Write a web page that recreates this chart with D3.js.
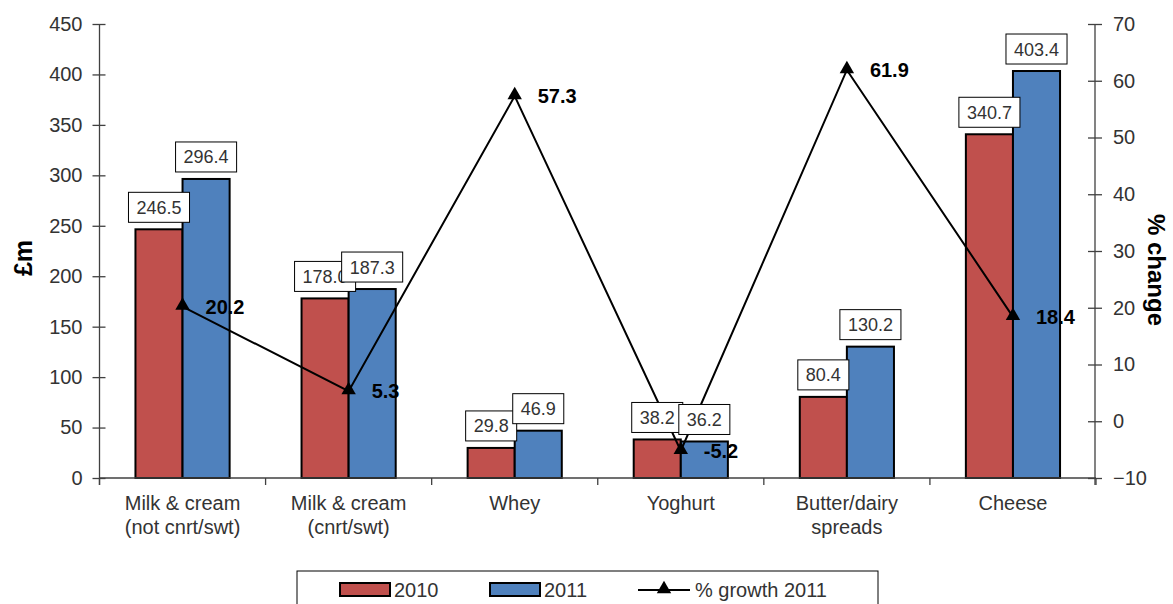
<!DOCTYPE html>
<html>
<head>
<meta charset="utf-8">
<script src="https://cdn.jsdelivr.net/npm/d3@7/dist/d3.min.js"></script>
<style>
  html, body { margin: 0; padding: 0; background: #fff; }
  svg { display: block; font-family: "Liberation Sans", Arial, sans-serif; }
</style>
</head>
<body>
<svg id="chart" width="1173" height="604"></svg>
<script>
// Dairy exports by category, £m, with % growth in 2011
const categories = [
  ["Milk & cream", "(not cnrt/swt)"],
  ["Milk & cream", "(cnrt/swt)"],
  ["Whey"],
  ["Yoghurt"],
  ["Butter/dairy", "spreads"],
  ["Cheese"]
];
const seriesNames = ["2010", "2011"];
const values2010 = [246.5, 178.0, 29.8, 38.2, 80.4, 340.7];
const values2011 = [296.4, 187.3, 46.9, 36.2, 130.2, 403.4];
const growth2011 = [20.2, 5.3, 57.3, -5.2, 61.9, 18.4];
const leftTicks = [0, 50, 100, 150, 200, 250, 300, 350, 400, 450];
const rightTicks = [-10, 0, 10, 20, 30, 40, 50, 60, 70];
const growthLabel = "% growth 2011";

const colors = { "2010": "#C0504D", "2011": "#4F81BD" };
const axisColor = "#404040";
const textColor = "#333";

const svg = d3.select("#chart");
const plot = { left: 99.5, right: 1096, top: 24, bottom: 478 };

const catKeys = categories.map((c, i) => i);
const x0 = d3.scaleBand().domain(catKeys).range([plot.left, plot.right]).padding(0);
const bw = x0.bandwidth();
const groupW = bw * 0.567;
const x1 = d3.scaleBand().domain(seriesNames).range([(bw - groupW) / 2, (bw + groupW) / 2]).padding(0);
const yL = d3.scaleLinear().domain([0, 450]).range([plot.bottom, plot.top]);
const yR = d3.scaleLinear().domain([-10, 70]).range([plot.bottom, plot.top]);

const rows = catKeys.map(i => ({ i, "2010": values2010[i], "2011": values2011[i], growth: growth2011[i] }));

// Bars
const groups = svg.append("g").selectAll("g").data(rows).join("g")
  .attr("transform", d => `translate(${x0(d.i)},0)`);
groups.selectAll("rect").data(d => seriesNames.map(s => ({ s, v: d[s] }))).join("rect")
  .attr("x", d => x1(d.s))
  .attr("y", d => yL(d.v))
  .attr("width", x1.bandwidth())
  .attr("height", d => yL(0) - yL(d.v))
  .attr("fill", d => colors[d.s])
  .attr("stroke", "#000")
  .attr("stroke-width", 2);

// Left axis
const axL = svg.append("g").attr("transform", `translate(${plot.left},0)`)
  .call(d3.axisLeft(yL).tickValues(leftTicks).tickSize(7).tickPadding(10));
axL.select(".domain").attr("d", `M0,${plot.top}V${plot.bottom + 7}`);
axL.selectAll(".tick line").attr("x1", 6).attr("x2", -7);

// Right axis
const axR = svg.append("g").attr("transform", `translate(${plot.right - 1},0)`)
  .call(d3.axisRight(yR).tickValues(rightTicks).tickSize(7).tickPadding(11));
axR.select(".domain").attr("d", `M0,${plot.top}V${plot.bottom + 7}`);
axR.selectAll(".tick line").attr("x1", -7).attr("x2", 7);

// Bottom axis: ticks at category boundaries
const bounds = catKeys.map(i => x0(i)).concat([plot.right]);
const axB = svg.append("g");
axB.append("line").attr("x1", plot.left).attr("x2", plot.right)
  .attr("y1", plot.bottom).attr("y2", plot.bottom)
  .attr("stroke", axisColor).attr("stroke-width", 1.3);
axB.selectAll("line.tk").data(bounds).join("line").attr("class", "tk")
  .attr("x1", d => d).attr("x2", d => d)
  .attr("y1", plot.bottom).attr("y2", plot.bottom + 7)
  .attr("stroke", axisColor).attr("stroke-width", 1.3);

[axL, axR].forEach(ax => {
  ax.selectAll(".domain, .tick line").attr("stroke", axisColor).attr("stroke-width", 1.3);
  ax.selectAll("text").attr("fill", textColor).style("font-size", "20px")
    .style("font-family", "'Liberation Sans', Arial, sans-serif");
});

// Category labels
const catG = svg.append("g");
categories.forEach((lines, i) => {
  const t = catG.append("text")
    .attr("x", x0(i) + bw / 2)
    .attr("y", 510)
    .attr("text-anchor", "middle")
    .attr("fill", textColor)
    .style("font-size", "20px");
  lines.forEach((ln, k) => {
    t.append("tspan").attr("x", x0(i) + bw / 2).attr("dy", k === 0 ? 0 : 24).text(ln);
  });
});

// Growth line
const line = d3.line().x(d => x0(d.i) + bw / 2).y(d => yR(d.growth));
svg.append("path").datum(rows)
  .attr("d", line).attr("fill", "none").attr("stroke", "#000").attr("stroke-width", 2);
const tri = d3.symbol().type(d3.symbolTriangle).size(90);
svg.append("g").selectAll("path").data(rows).join("path")
  .attr("d", tri)
  .attr("transform", d => `translate(${x0(d.i) + bw / 2},${yR(d.growth) - 1})`)
  .attr("fill", "#000");

// Bar value labels (boxed)
const labelG = svg.append("g");
seriesNames.forEach(s => {
  rows.forEach(d => {
    const cx = x0(d.i) + x1(s) + x1.bandwidth() / 2;
    const txt = d[s].toFixed(1);
    const g = labelG.append("g");
    const t = g.append("text")
      .attr("x", cx).attr("text-anchor", "middle")
      .attr("fill", textColor)
      .style("font-size", "18px")
      .text(txt);
    const w = t.node().getComputedTextLength() + 16;
    const h = 30;
    const bottom = yL(d[s]) - 7;
    g.insert("rect", "text")
      .attr("x", cx - w / 2).attr("y", bottom - h)
      .attr("width", w).attr("height", h)
      .attr("fill", "#fff").attr("stroke", "#000").attr("stroke-width", 1);
    t.attr("y", bottom - h / 2 + 6.5);
  });
});

// Growth value labels
svg.append("g").selectAll("text").data(rows).join("text")
  .attr("x", d => x0(d.i) + bw / 2 + 23)
  .attr("y", d => yR(d.growth) + 7)
  .attr("fill", "#000")
  .style("font-size", "20px")
  .style("font-weight", "bold")
  .text(d => d.growth.toFixed(1));

// Axis titles
svg.append("text")
  .attr("transform", `translate(32,258) rotate(-90)`)
  .attr("text-anchor", "middle")
  .style("font-size", "25px").style("font-weight", "bold")
  .attr("fill", "#000")
  .text("£m");
svg.append("text")
  .attr("transform", `translate(1148,270) rotate(90)`)
  .attr("text-anchor", "middle")
  .style("font-size", "24px").style("font-weight", "bold")
  .attr("fill", "#000")
  .text("% change");

// Legend
const leg = svg.append("g");
leg.append("rect").attr("x", 297).attr("y", 571).attr("width", 581).attr("height", 60)
  .attr("fill", "#fff").attr("stroke", "#000").attr("stroke-width", 1);
const legItems = [
  { type: "bar", key: "2010", x: 340 },
  { type: "bar", key: "2011", x: 490 }
];
legItems.forEach(it => {
  leg.append("rect").attr("x", it.x).attr("y", 583).attr("width", 50).attr("height", 13)
    .attr("fill", colors[it.key]).attr("stroke", "#000").attr("stroke-width", 2);
  leg.append("text").attr("x", it.x + 54).attr("y", 597)
    .attr("fill", textColor).style("font-size", "20px").text(it.key);
});
leg.append("line").attr("x1", 638).attr("x2", 690).attr("y1", 590).attr("y2", 590)
  .attr("stroke", "#000").attr("stroke-width", 2);
leg.append("path").attr("d", tri).attr("transform", "translate(664,589)").attr("fill", "#000");
leg.append("text").attr("x", 695).attr("y", 597)
  .attr("fill", textColor).style("font-size", "20px").text(growthLabel);
</script>
</body>
</html>
